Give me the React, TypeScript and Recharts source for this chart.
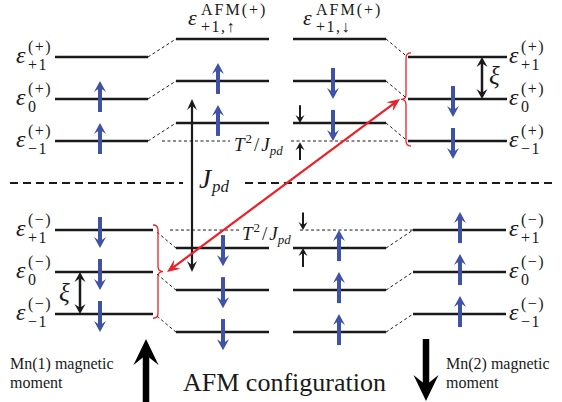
import React from "react";
import { ComposedChart, XAxis, YAxis, ReferenceLine, ReferenceDot } from "recharts";

// energies in units of ξ (level spacing), zero at the dashed midline
const levelsPlus = [3, 2, 1]; // ε(+)_{+1}, ε(+)_0, ε(+)_{-1}
const levelsMinus = [-1.12, -2.12, -3.12]; // ε(−)_{+1}, ε(−)_0, ε(−)_{-1}
const shiftT2Jpd = 0.43; // T²/Jpd
const levelSubs = ["+1", "0", "−1"];

// spin arrows on each level: 1 = up, -1 = down, 0 = empty
const spinPlusLeft = [0, 1, 1];
const spinPlusAfmUp = [0, 1, 1];
const spinPlusAfmDown = [0, -1, -1];
const spinPlusRight = [0, -1, -1];
const spinMinusLeft = [-1, -1, -1];
const spinMinusAfmUp = [-1, -1, -1];
const spinMinusAfmDown = [1, 1, 1];
const spinMinusRight = [1, 1, 1];

const W = 562;
const H = 402;
const MID = 183;
const UNIT = 42;
const E_MAX = MID / UNIT;
const E_MIN = (MID - H) / UNIT;
const ey = (px: number) => (MID - px) / UNIT;

const INK = "#1a1a1a";
const BLUE = "#3f52a6";
const RED = "#ec2027";
const FONT = "'Liberation Serif', 'Times New Roman', serif";

type Col = { x0: number; x1: number; ax: number };
const upLeft: Col = { x0: 55, x1: 148, ax: 100 };
const upAfmUp: Col = { x0: 176, x1: 269, ax: 218 };
const upAfmDown: Col = { x0: 293, x1: 386, ax: 333 };
const upRight: Col = { x0: 408, x1: 507, ax: 453 };
const loLeft: Col = { x0: 55, x1: 153, ax: 100 };
const loAfmUp: Col = { x0: 176, x1: 269, ax: 223 };
const loAfmDown: Col = { x0: 293, x1: 386, ax: 339 };
const loRight: Col = { x0: 413, x1: 506, ax: 460 };

const afmPlus = levelsPlus.map((e) => e + shiftT2Jpd);
const afmMinus = levelsMinus.map((e) => e - shiftT2Jpd);

const sets = [
  { col: upLeft, levels: levelsPlus, spins: spinPlusLeft },
  { col: upAfmUp, levels: afmPlus, spins: spinPlusAfmUp },
  { col: upAfmDown, levels: afmPlus, spins: spinPlusAfmDown },
  { col: upRight, levels: levelsPlus, spins: spinPlusRight },
  { col: loLeft, levels: levelsMinus, spins: spinMinusLeft },
  { col: loAfmUp, levels: afmMinus, spins: spinMinusAfmUp },
  { col: loAfmDown, levels: afmMinus, spins: spinMinusAfmDown },
  { col: loRight, levels: levelsMinus, spins: spinMinusRight },
];

type ArrowOpts = { color: string; w: number; len: number; half: number; both?: boolean };

const arrow = (o: ArrowOpts) => (p: any) => {
  const { x1, y1, x2, y2 } = p;
  const dx = x2 - x1;
  const dy = y2 - y1;
  const d = Math.hypot(dx, dy) || 1;
  const ux = dx / d;
  const uy = dy / d;
  const nx = -uy;
  const ny = ux;
  const head = (tx: number, ty: number, sx: number, sy: number) => {
    const bx = tx - sx * o.len;
    const by = ty - sy * o.len;
    const mx = tx - sx * o.len * 0.62;
    const my = ty - sy * o.len * 0.62;
    return `M${tx},${ty} L${bx + nx * o.half},${by + ny * o.half} L${mx},${my} L${bx - nx * o.half},${by - ny * o.half} Z`;
  };
  const inset = o.len * 0.6;
  const sx1 = o.both ? x1 + ux * inset : x1;
  const sy1 = o.both ? y1 + uy * inset : y1;
  return (
    <g>
      <line x1={sx1} y1={sy1} x2={x2 - ux * inset} y2={y2 - uy * inset} stroke={o.color} strokeWidth={o.w} />
      <path d={head(x2, y2, ux, uy)} fill={o.color} />
      {o.both && <path d={head(x1, y1, -ux, -uy)} fill={o.color} />}
    </g>
  );
};

const blueArrow = arrow({ color: BLUE, w: 4, len: 11, half: 6 });
const smallArrow = arrow({ color: INK, w: 2, len: 8, half: 4.5 });
const jpdArrow = arrow({ color: INK, w: 2.2, len: 11, half: 5, both: true });
const xiArrow = arrow({ color: INK, w: 2.5, len: 10, half: 5.5, both: true });
const redArrow = arrow({ color: RED, w: 2.2, len: 13, half: 5.5, both: true });
const bigArrow = arrow({ color: "#000", w: 6.5, len: 26, half: 12.5 });

// dir -1: tip points left "{", 1: tip points right "}"
const brace = (dir: number) => (p: any) => {
  const { x1, y1, y2 } = p;
  const top = Math.min(y1, y2);
  const bot = Math.max(y1, y2);
  const mid = (top + bot) / 2;
  const x = x1;
  const c = 5;
  const w = 5;
  const d = `M${x - dir * c},${top} Q${x},${top} ${x},${top + c} L${x},${mid - c} Q${x},${mid} ${x + dir * w},${mid} Q${x},${mid} ${x},${mid + c} L${x},${bot - c} Q${x},${bot} ${x - dir * c},${bot}`;
  return <path d={d} fill="none" stroke={RED} strokeWidth={1.3} />;
};

const SPIN_LEN = 0.74;
const SPIN_OFF = 0.06;
const spinSeg = (x: number, e: number, dir: number) => {
  const c = e + dir * SPIN_OFF;
  return [
    { x, y: c - (dir * SPIN_LEN) / 2 },
    { x, y: c + (dir * SPIN_LEN) / 2 },
  ];
};

const seg = (xa: number, ya: number, xb: number, yb: number) => [
  { x: xa, y: ya },
  { x: xb, y: yb },
];

const at = (key: string, x: number, y: number, render: (cx: number, cy: number) => React.ReactElement) => (
  <ReferenceDot key={key} x={x} y={y} r={1} ifOverflow="visible" shape={(p: any) => render(p.cx, p.cy)} />
);

const epsLabel = (sup: string, sub: string) => (cx: number, cy: number) => (
  <g fill={INK} fontFamily={FONT}>
    <text x={cx} y={cy + 6} fontSize={24} fontStyle="italic">ε</text>
    <text x={cx + 12} y={cy - 5} fontSize={16} letterSpacing={1.5}>{sup}</text>
    <text x={cx + 12} y={cy + 13} fontSize={16} letterSpacing={1.5}>{sub}</text>
  </g>
);

const afmLabel = (sub: string) => (cx: number, cy: number) => (
  <g fill={INK} fontFamily={FONT}>
    <text x={cx} y={cy} fontSize={22} fontStyle="italic">ε</text>
    <text x={cx + 13} y={cy - 10} fontSize={16} letterSpacing={2}>AFM(+)</text>
    <text x={cx + 13} y={cy + 7} fontSize={16} letterSpacing={1.5}>{sub}</text>
  </g>
);

const t2Label = (cx: number, cy: number) => (
  <text x={cx} y={cy} fontFamily={FONT} fontSize={19} fill={INK}>
    <tspan fontStyle="italic">T</tspan>
    <tspan fontSize={13} dy={-8} dx={1}>2</tspan>
    <tspan dy={8} dx={2}>/</tspan>
    <tspan fontStyle="italic" dx={2}>J</tspan>
    <tspan fontStyle="italic" fontSize={13} dy={4}>pd</tspan>
  </text>
);

const jpdLabel = (cx: number, cy: number) => (
  <text x={cx} y={cy} fontFamily={FONT} fontSize={27} fill={INK}>
    <tspan fontStyle="italic">J</tspan>
    <tspan fontStyle="italic" fontSize={17} dy={4} dx={1}>pd</tspan>
  </text>
);

const xiLabel = (cx: number, cy: number) => (
  <text x={cx} y={cy} fontFamily={FONT} fontSize={25} fontStyle="italic" fill={INK}>ξ</text>
);

const plainText = (s: string, size: number) => (cx: number, cy: number) => (
  <text x={cx} y={cy} fontFamily={FONT} fontSize={size} fill={INK}>{s}</text>
);

const thin = { stroke: INK, strokeWidth: 1, strokeDasharray: "3 2.5" };

export default function App() {
  return (
    <div style={{ position: "absolute", left: 0, top: 0, width: W, height: H, background: "#fff" }}>
      <ComposedChart width={W} height={H} data={[]} margin={{ top: 0, right: 0, bottom: 0, left: 0 }}>
        <XAxis type="number" dataKey="x" domain={[0, W]} hide allowDataOverflow />
        <YAxis type="number" dataKey="y" domain={[E_MIN, E_MAX]} hide allowDataOverflow width={0} />

        {/* midline */}
        <ReferenceLine segment={seg(10, 0, 183, 0)} stroke={INK} strokeWidth={2} strokeDasharray="8 5" ifOverflow="visible" />
        <ReferenceLine segment={seg(245, 0, 552, 0)} stroke={INK} strokeWidth={2} strokeDasharray="8 5" ifOverflow="visible" />

        {/* T²/Jpd reference lines */}
        <ReferenceLine segment={seg(162, levelsPlus[2], 230, levelsPlus[2])} {...thin} ifOverflow="visible" />
        <ReferenceLine segment={seg(291, levelsPlus[2], 398, levelsPlus[2])} {...thin} ifOverflow="visible" />
        <ReferenceLine segment={seg(170, levelsMinus[0], 240, levelsMinus[0])} {...thin} ifOverflow="visible" />
        <ReferenceLine segment={seg(300, levelsMinus[0], 413, levelsMinus[0])} {...thin} ifOverflow="visible" />

        {/* connectors */}
        {levelsPlus.map((e, i) => (
          <ReferenceLine key={`cu1-${i}`} segment={seg(upLeft.x1, e, upAfmUp.x0, e + shiftT2Jpd)} {...thin} ifOverflow="visible" />
        ))}
        {levelsPlus.map((e, i) => (
          <ReferenceLine key={`cu2-${i}`} segment={seg(upAfmDown.x1, e + shiftT2Jpd, 405, e + 0.05)} {...thin} ifOverflow="visible" />
        ))}
        {levelsMinus.map((e, i) => (
          <ReferenceLine key={`cl1-${i}`} segment={seg(157, e - 0.05, loAfmUp.x0, e - shiftT2Jpd)} {...thin} ifOverflow="visible" />
        ))}
        {levelsMinus.map((e, i) => (
          <ReferenceLine key={`cl2-${i}`} segment={seg(loAfmDown.x1, e - shiftT2Jpd, loRight.x0, e)} {...thin} ifOverflow="visible" />
        ))}

        {/* levels */}
        {sets.flatMap((s, k) =>
          s.levels.map((e, i) => (
            <ReferenceLine key={`lv-${k}-${i}`} segment={seg(s.col.x0, e, s.col.x1, e)} stroke={INK} strokeWidth={2.5} ifOverflow="visible" />
          ))
        )}

        {/* spins */}
        {sets.flatMap((s, k) =>
          s.spins.map((dir, i) =>
            dir ? (
              <ReferenceLine key={`sp-${k}-${i}`} segment={spinSeg(s.col.ax, s.levels[i], dir)} shape={blueArrow} ifOverflow="visible" />
            ) : null
          )
        )}

        {/* braces */}
        <ReferenceLine segment={seg(406, levelsPlus[0] + 0.1, 406, levelsPlus[2] - 0.12)} shape={brace(-1)} ifOverflow="visible" />
        <ReferenceLine segment={seg(158, levelsMinus[0] + 0.12, 158, levelsMinus[2] - 0.1)} shape={brace(1)} ifOverflow="visible" />

        {/* Jpd, ξ, red coupling arrows */}
        <ReferenceLine segment={seg(192, levelsMinus[1], 192, levelsPlus[1])} shape={jpdArrow} ifOverflow="visible" />
        <ReferenceLine segment={seg(482, levelsPlus[1], 482, levelsPlus[0])} shape={xiArrow} ifOverflow="visible" />
        <ReferenceLine segment={seg(80, levelsMinus[2], 80, levelsMinus[1])} shape={xiArrow} ifOverflow="visible" />
        <ReferenceLine segment={seg(167, levelsMinus[1], 400, levelsPlus[1])} shape={redArrow} ifOverflow="visible" />

        {/* T²/Jpd small arrows */}
        <ReferenceLine segment={seg(300, afmPlus[2] + 0.42, 300, afmPlus[2])} shape={smallArrow} ifOverflow="visible" />
        <ReferenceLine segment={seg(300, levelsPlus[2] - 0.45, 300, levelsPlus[2] - 0.03)} shape={smallArrow} ifOverflow="visible" />
        <ReferenceLine segment={seg(303, levelsMinus[0] + 0.42, 303, levelsMinus[0])} shape={smallArrow} ifOverflow="visible" />
        <ReferenceLine segment={seg(303, afmMinus[0] - 0.45, 303, afmMinus[0])} shape={smallArrow} ifOverflow="visible" />

        {/* magnetic moment arrows */}
        <ReferenceLine segment={seg(146, ey(402), 146, ey(339))} shape={bigArrow} ifOverflow="visible" />
        <ReferenceLine segment={seg(426, ey(339), 426, ey(401))} shape={bigArrow} ifOverflow="visible" />

        {/* level labels */}
        {levelsPlus.map((e, i) => at(`lpl-${i}`, 16, e, epsLabel("(+)", levelSubs[i])))}
        {levelsPlus.map((e, i) => at(`lpr-${i}`, 509, e, epsLabel("(+)", levelSubs[i])))}
        {levelsMinus.map((e, i) => at(`lml-${i}`, 16, e, epsLabel("(−)", levelSubs[i])))}
        {levelsMinus.map((e, i) => at(`lmr-${i}`, 509, e, epsLabel("(−)", levelSubs[i])))}
        {at("afm-up", 188, ey(25), afmLabel("+1,↑"))}
        {at("afm-dn", 303, ey(25), afmLabel("+1,↓"))}

        {at("t2-up", 234, ey(151), t2Label)}
        {at("t2-lo", 242, ey(240), t2Label)}
        {at("jpd", 199, ey(188), jpdLabel)}
        {at("xi-up", 489, ey(84), xiLabel)}
        {at("xi-lo", 59, ey(301), xiLabel)}

        {at("mn1a", 10, ey(369), plainText("Mn(1) magnetic", 16))}
        {at("mn1b", 10, ey(388), plainText("moment", 16))}
        {at("afm", 183, ey(391), plainText("AFM configuration", 26))}
        {at("mn2a", 446, ey(369), plainText("Mn(2) magnetic", 16))}
        {at("mn2b", 446, ey(388), plainText("moment", 16))}
      </ComposedChart>
    </div>
  );
}
